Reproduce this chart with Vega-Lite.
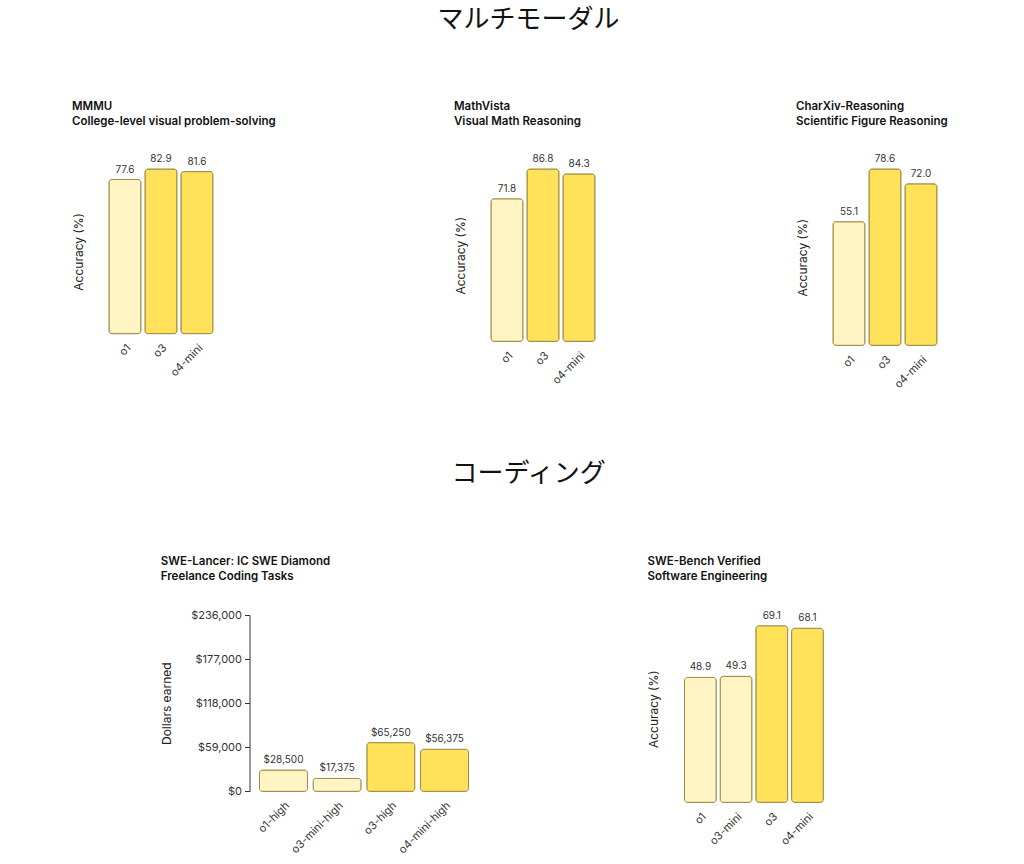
{
  "$schema": "https://vega.github.io/schema/vega-lite/v6.json",
  "padding": {"left": 72, "top": 6, "right": 5, "bottom": 5},
  "autosize": {"type": "pad"},
  "config": {
    "view": {"stroke": null},
    "font": "Inter",
    "axis": {"grid": false, "labelFont": "Inter", "titleFont": "Inter", "labelColor": "#333", "titleColor": "#222", "labelFontSize": 11, "titleFontSize": 12, "titleFontWeight": "normal"},
    "title": {"font": "Inter"}
  },
  "spacing": 70,
  "center": true,
  "vconcat": [
    {
      "title": {"text": "マルチモーダル", "font": "Noto Sans CJK JP", "fontSize": 26, "fontWeight": "normal", "color": "#111", "anchor": "middle", "offset": 68, "dx": -10},
      "bounds": "flush",
      "spacing": 230,
      "hconcat": [
        {
          "width": 152, "height": 164.7,
          "title": {"text": ["MMMU", "College-level visual problem-solving"], "anchor": "start", "frame": "bounds", "fontSize": 11.5, "fontWeight": 600, "lineHeight": 15, "color": "#111", "offset": 27},
          "data": {"values": [
            {"model": "o1", "value": 77.6, "tier": "prev"},
            {"model": "o3", "value": 82.9, "tier": "new"},
            {"model": "o4-mini", "value": 81.6, "tier": "new"}
          ]},
          "encoding": {
            "x": {"field": "model", "type": "nominal", "sort": null, "scale": {"paddingInner": 0.111, "paddingOuter": 0.667, "align": 0.083}, "axis": {"title": null, "labelAngle": -45, "ticks": false, "domain": false, "labelPadding": 8}},
            "y": {"field": "value", "type": "quantitative", "scale": {"domain": [0, 82.9], "nice": false}, "axis": {"title": "Accuracy (%)", "labels": false, "ticks": false, "domain": false, "titlePadding": 20}}
          },
          "layer": [
            {"mark": {"type": "bar", "cornerRadius": 3, "stroke": "#9C8A45", "strokeWidth": 1},
             "encoding": {"color": {"field": "tier", "type": "nominal", "scale": {"domain": ["prev", "new"], "range": ["#FFF4C4", "#FFE15A"]}, "legend": null}}},
            {"mark": {"type": "text", "baseline": "bottom", "dy": -5, "fontSize": 10, "color": "#333"},
             "encoding": {"text": {"field": "value", "type": "quantitative", "format": ".1f"}}}
          ]
        },
        {
          "width": 112, "height": 172.4,
          "title": {"text": ["MathVista", "Visual Math Reasoning"], "anchor": "start", "frame": "bounds", "fontSize": 11.5, "fontWeight": 600, "lineHeight": 15, "color": "#111", "offset": 27},
          "data": {"values": [
            {"model": "o1", "value": 71.8, "tier": "prev"},
            {"model": "o3", "value": 86.8, "tier": "new"},
            {"model": "o4-mini", "value": 84.3, "tier": "new"}
          ]},
          "encoding": {
            "x": {"field": "model", "type": "nominal", "sort": null, "scale": {"paddingInner": 0.111, "paddingOuter": 0.111}, "axis": {"title": null, "labelAngle": -45, "ticks": false, "domain": false, "labelPadding": 8}},
            "y": {"field": "value", "type": "quantitative", "scale": {"domain": [0, 86.8], "nice": false}, "axis": {"title": "Accuracy (%)", "labels": false, "ticks": false, "domain": false, "titlePadding": 20}}
          },
          "layer": [
            {"mark": {"type": "bar", "cornerRadius": 3, "stroke": "#9C8A45", "strokeWidth": 1},
             "encoding": {"color": {"field": "tier", "type": "nominal", "scale": {"domain": ["prev", "new"], "range": ["#FFF4C4", "#FFE15A"]}, "legend": null}}},
            {"mark": {"type": "text", "baseline": "bottom", "dy": -5, "fontSize": 10, "color": "#333"},
             "encoding": {"text": {"field": "value", "type": "quantitative", "format": ".1f"}}}
          ]
        },
        {
          "width": 176, "height": 176.4,
          "title": {"text": ["CharXiv-Reasoning", "Scientific Figure Reasoning"], "anchor": "start", "frame": "bounds", "fontSize": 11.5, "fontWeight": 600, "lineHeight": 15, "color": "#111", "offset": 27},
          "data": {"values": [
            {"model": "o1", "value": 55.1, "tier": "prev"},
            {"model": "o3", "value": 78.6, "tier": "new"},
            {"model": "o4-mini", "value": 72.0, "tier": "new"}
          ]},
          "encoding": {
            "x": {"field": "model", "type": "nominal", "sort": null, "scale": {"paddingInner": 0.111, "paddingOuter": 1, "align": 0.0556}, "axis": {"title": null, "labelAngle": -45, "ticks": false, "domain": false, "labelPadding": 8}},
            "y": {"field": "value", "type": "quantitative", "scale": {"domain": [0, 78.6], "nice": false}, "axis": {"title": "Accuracy (%)", "labels": false, "ticks": false, "domain": false, "titlePadding": 20}}
          },
          "layer": [
            {"mark": {"type": "bar", "cornerRadius": 3, "stroke": "#9C8A45", "strokeWidth": 1},
             "encoding": {"color": {"field": "tier", "type": "nominal", "scale": {"domain": ["prev", "new"], "range": ["#FFF4C4", "#FFE15A"]}, "legend": null}}},
            {"mark": {"type": "text", "baseline": "bottom", "dy": -5, "fontSize": 10, "color": "#333"},
             "encoding": {"text": {"field": "value", "type": "quantitative", "format": ".1f"}}}
          ]
        }
      ]
    },
    {
      "title": {"text": "コーディング", "font": "Noto Sans CJK JP", "fontSize": 26, "fontWeight": "normal", "color": "#111", "anchor": "middle", "offset": 69, "dx": 18},
      "bounds": "flush",
      "spacing": 202,
      "hconcat": [
        {
          "width": 229, "height": 176.4,
          "title": {"text": ["SWE-Lancer: IC SWE Diamond", "Freelance Coding Tasks"], "anchor": "start", "frame": "bounds", "fontSize": 11.5, "fontWeight": 600, "lineHeight": 15, "color": "#111", "offset": 27},
          "data": {"values": [
            {"model": "o1-high", "value": 28500, "tier": "prev"},
            {"model": "o3-mini-high", "value": 17375, "tier": "prev"},
            {"model": "o3-high", "value": 65250, "tier": "new"},
            {"model": "o4-mini-high", "value": 56375, "tier": "new"}
          ]},
          "encoding": {
            "x": {"field": "model", "type": "nominal", "sort": null, "scale": {"paddingInner": 0.106, "paddingOuter": 0.186}, "axis": {"title": null, "labelAngle": -45, "ticks": false, "domain": false, "labelPadding": 8}},
            "y": {"field": "value", "type": "quantitative", "scale": {"domain": [0, 236000], "nice": false}, "axis": {"title": "Dollars earned", "values": [0, 59000, 118000, 177000, 236000], "format": "$,.0f", "ticks": true, "tickSize": 5, "tickColor": "#333", "domain": true, "domainColor": "#333", "labelPadding": 3, "titlePadding": 17}}
          },
          "layer": [
            {"mark": {"type": "bar", "cornerRadius": 3, "stroke": "#9C8A45", "strokeWidth": 1},
             "encoding": {"color": {"field": "tier", "type": "nominal", "scale": {"domain": ["prev", "new"], "range": ["#FFF4C4", "#FFE15A"]}, "legend": null}}},
            {"mark": {"type": "text", "baseline": "bottom", "dy": -5, "fontSize": 10, "color": "#333"},
             "encoding": {"text": {"field": "value", "type": "quantitative", "format": "$,.0f"}}}
          ]
        },
        {
          "width": 180, "height": 187.4,
          "title": {"text": ["SWE-Bench Verified", "Software Engineering"], "anchor": "start", "frame": "bounds", "fontSize": 11.5, "fontWeight": 600, "lineHeight": 15, "color": "#111", "offset": 28},
          "data": {"values": [
            {"model": "o1", "value": 48.9, "tier": "prev"},
            {"model": "o3-mini", "value": 49.3, "tier": "prev"},
            {"model": "o3", "value": 69.1, "tier": "new"},
            {"model": "o4-mini", "value": 68.1, "tier": "new"}
          ]},
          "encoding": {
            "x": {"field": "model", "type": "nominal", "sort": null, "scale": {"paddingInner": 0.11, "paddingOuter": 0.576, "align": 0.097}, "axis": {"title": null, "labelAngle": -45, "ticks": false, "domain": false, "labelPadding": 8}},
            "y": {"field": "value", "type": "quantitative", "scale": {"domain": [0, 73.3], "nice": false}, "axis": {"title": "Accuracy (%)", "labels": false, "ticks": false, "domain": false, "titlePadding": 20}}
          },
          "layer": [
            {"mark": {"type": "bar", "cornerRadius": 3, "stroke": "#9C8A45", "strokeWidth": 1},
             "encoding": {"color": {"field": "tier", "type": "nominal", "scale": {"domain": ["prev", "new"], "range": ["#FFF4C4", "#FFE15A"]}, "legend": null}}},
            {"mark": {"type": "text", "baseline": "bottom", "dy": -5, "fontSize": 10, "color": "#333"},
             "encoding": {"text": {"field": "value", "type": "quantitative", "format": ".1f"}}}
          ]
        }
      ]
    }
  ]
}
